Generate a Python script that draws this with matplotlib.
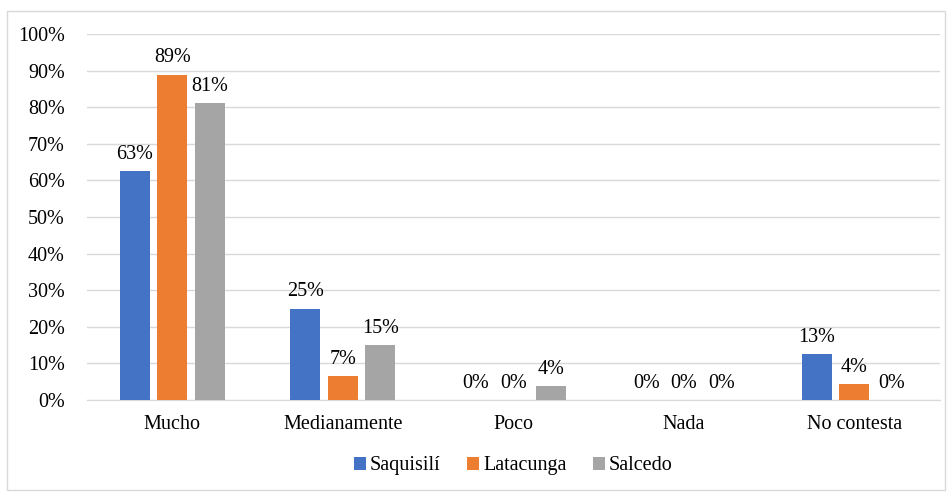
import matplotlib.pyplot as plt
import numpy as np
from matplotlib.patches import Rectangle

# data (percent)
categories = ["Mucho", "Medianamente", "Poco", "Nada", "No contesta"]
series_names = ["Saquisilí", "Latacunga", "Salcedo"]
saquisili = [62.5, 25, 0, 0, 12.5]
latacunga = [88.9, 6.5, 0, 0, 4.4]
salcedo = [81.1, 15.0, 3.7, 0, 0]
colors = ["#4472C4", "#ED7D31", "#A5A5A5"]

plt.rcParams['font.family'] = ['Liberation Serif', 'DejaVu Serif']

fig = plt.figure(figsize=(9.5, 4.93), dpi=100)
ax = fig.add_axes([0.0916, 0.1886, 0.8974, 0.7424])

x = np.arange(len(categories))
width = 0.175
offsets = [-0.22, 0, 0.22]
for vals, name, c, off in zip([saquisili, latacunga, salcedo], series_names, colors, offsets):
    bars = ax.bar(x + off, vals, width, color=c, label=name, zorder=3)
    for b, v in zip(bars, vals):
        ax.text(b.get_x() + b.get_width() / 2, v + 2.0, f"{int(v + 0.5)}%",
                ha="center", va="bottom", fontsize=14.5)

ax.set_ylim(0, 100)
ax.set_xlim(-0.5, len(categories) - 0.5)
ax.set_yticks(np.arange(0, 101, 10))
ax.set_yticklabels([f"{t}%" for t in range(0, 101, 10)], fontsize=14.5)
ax.set_xticks(x)
ax.set_xticklabels(categories, fontsize=14.5)
ax.tick_params(axis="x", length=0, pad=11)
ax.tick_params(axis="y", length=0, pad=16)
ax.grid(axis="y", color="#D9D9D9", linewidth=1, zorder=0)
for s in ["top", "right", "left"]:
    ax.spines[s].set_visible(False)
ax.spines["bottom"].set_color("#D9D9D9")

ax.legend(loc="center", bbox_to_anchor=(0.5, -0.18), ncol=3, frameon=False,
          fontsize=14.5, handlelength=0.6, handleheight=0.6, handletextpad=0.2,
          columnspacing=1.3)

fig.patches.append(Rectangle((0.007, 0.006), 0.988, 0.972, transform=fig.transFigure,
                             fill=False, edgecolor="#D9D9D9", linewidth=1))

fig.savefig("out.png", dpi=100)
